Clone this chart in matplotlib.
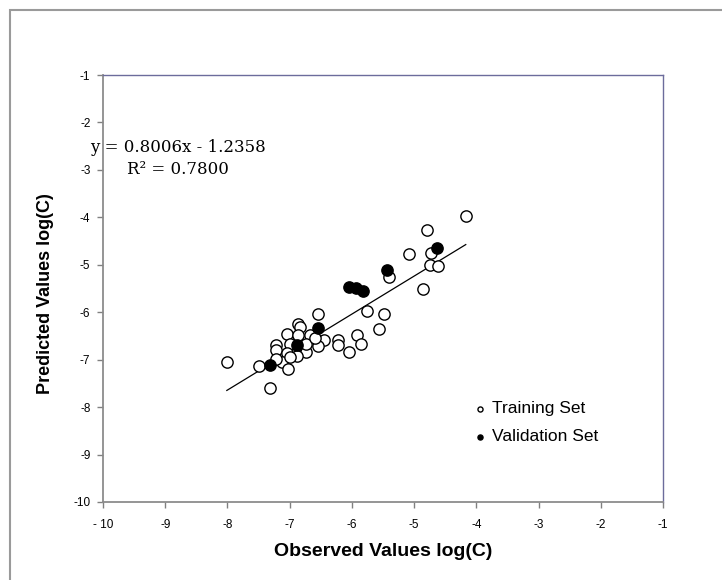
import matplotlib.pyplot as plt
import matplotlib.patches as patches
import numpy as np

# observed vs predicted log(C)
train_x = [-4.17, -4.80, -5.09, -4.73, -4.74, -4.61, -4.86, -5.41, -5.76, -5.48,
           -5.57, -5.92, -5.85, -6.04, -6.23, -6.23, -6.55, -6.45, -6.55, -6.73,
           -6.67, -6.86, -6.84, -7.05, -6.86, -6.73, -7.22, -7.22, -7.00, -7.04,
           -7.13, -6.89, -7.00, -7.02, -7.49, -8.01, -7.31, -7.22, -6.60]
train_y = [-3.97, -4.27, -4.78, -4.76, -5.01, -5.03, -5.50, -5.25, -5.98, -6.04,
           -6.36, -6.47, -6.68, -6.84, -6.59, -6.70, -6.04, -6.59, -6.72, -6.84,
           -6.49, -6.24, -6.32, -6.45, -6.49, -6.66, -6.70, -6.80, -6.66, -6.87,
           -7.05, -6.93, -6.94, -7.19, -7.14, -7.05, -7.59, -6.98, -6.55]
val_x = [-4.63, -5.43, -6.05, -5.93, -5.82, -6.55, -6.89, -7.31]
val_y = [-4.64, -5.11, -5.46, -5.48, -5.56, -6.34, -6.70, -7.12]

slope = 0.8006
intercept = -1.2358
ticks = list(range(-10, 0))

fig = plt.figure(figsize=(7.22, 5.8), dpi=100)
ax = fig.add_axes([103 / 722, 1 - 502 / 580, 560 / 722, 427 / 580])

# outer chart border (runs off the right and bottom edge)
fig.patches.append(patches.Rectangle((10 / 722, -0.05), 1.0, 1.05 - 10 / 580,
                                     transform=fig.transFigure, fill=False,
                                     edgecolor='#9a9a9a', lw=1.5))

ax.scatter(train_x, train_y, s=66, facecolors='white', edgecolors='black',
           linewidths=1.0, zorder=3, label='Training Set')
ax.scatter(val_x, val_y, s=66, facecolors='black', edgecolors='black',
           linewidths=1.0, zorder=4, label='Validation Set')

lx = np.array([min(train_x), max(train_x)])
ax.plot(lx, slope * lx + intercept, color='black', lw=0.9, zorder=2)

ax.set_xlim(-10, -1)
ax.set_ylim(-10, -1)
ax.set_xticks(ticks)
ax.set_yticks(ticks)
ax.set_xticklabels(['- 10'] + [str(t) for t in ticks[1:]], fontsize=8.5,
                   family='Liberation Sans')
ax.set_yticklabels([str(t) for t in ticks], fontsize=8.5, family='Liberation Sans')
ax.tick_params(direction='out', length=4, width=1, colors='#808080',
               labelcolor='black')
ax.tick_params(axis='x', pad=8)
ax.tick_params(axis='y', pad=5)

for side in ['left', 'bottom']:
    ax.spines[side].set_color('#8c8c8c')
    ax.spines[side].set_linewidth(1.3)
for side in ['top', 'right']:
    ax.spines[side].set_color('#6c6c9c')
    ax.spines[side].set_linewidth(1.0)

ax.set_xlabel('Observed Values log(C)', fontsize=14, fontweight='bold',
              family='Liberation Sans')
ax.xaxis.set_label_coords((383 - 103) / 560, -(543 - 502) / 427)
ax.set_ylabel('Predicted Values log(C)', fontsize=13, fontweight='bold',
              family='Liberation Sans')
ax.yaxis.set_label_coords(-(103 - 54) / 560, (502 - 294) / 427)

ax.text(0.134, 0.805, 'y = 0.8006x - 1.2358\nR² = 0.7800', transform=ax.transAxes,
        ha='center', va='center', fontsize=12, family='DejaVu Serif',
        linespacing=1.35)

ax.legend(loc='upper left', bbox_to_anchor=(0.63, 0.273), frameon=False,
          markerscale=0.45, handlelength=1.0, handletextpad=0.2,
          labelspacing=0.75, prop={'family': 'Liberation Sans', 'size': 12.5})

fig.savefig('out.png', dpi=100)
